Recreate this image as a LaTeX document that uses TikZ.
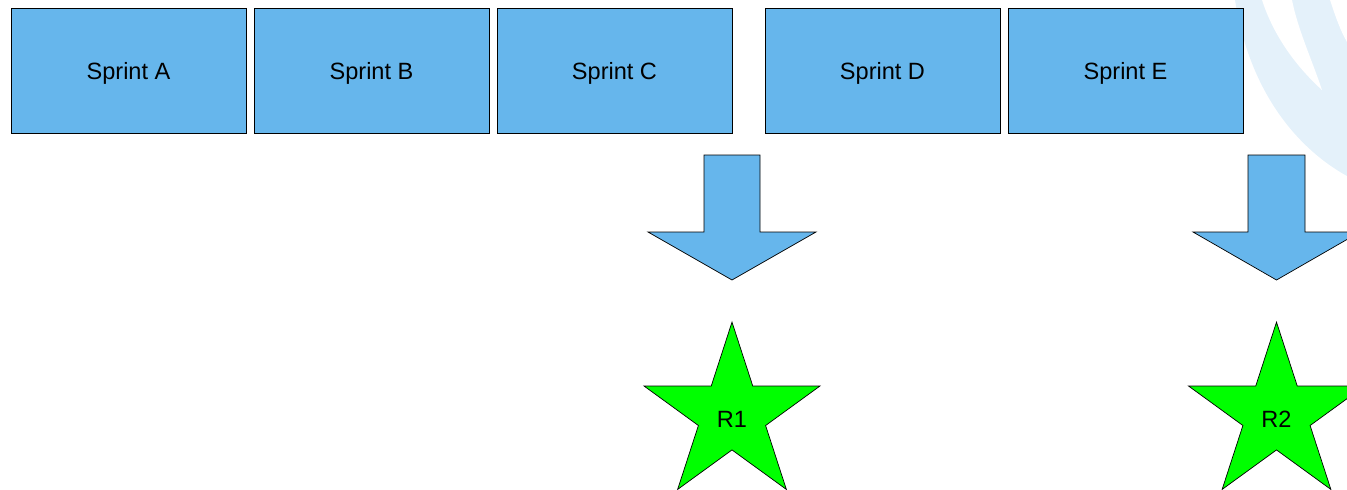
\documentclass[tikz,border=0pt]{standalone}
\usepackage{fontspec}
\setmainfont{Liberation Sans}
\usetikzlibrary{shapes.geometric}
\definecolor{sprintblue}{RGB}{102,182,236}
\definecolor{logoblue}{RGB}{228,241,250}
\begin{document}
\begin{tikzpicture}[x=0.02cm,y=-0.02cm,
            every node/.style={draw,font=\fontsize{13.4}{16}\selectfont},
            sprintbox/.style={rectangle,fill=sprintblue,minimum width=4.7cm,minimum height=2.5cm,inner sep=0pt,text depth=0pt},
            release/.style={star,star points=5,star point ratio=2.618,fill=green,minimum size=3.7cm,inner sep=0pt,text height=15pt,text depth=0pt},
            bigarrow/.style={draw,fill=sprintblue,line join=miter}]
            \clip (0,0) rectangle (1347,490);
            % faint logo in the corner
            \fill[logoblue] (1235,0) .. controls (1250,95) and (1300,150) .. (1347,176) -- (1347,0) -- cycle;
            \fill[white] (1262,0) .. controls (1275,40) and (1300,70) .. (1322,90) .. controls (1312,60) and (1298,30) .. (1292,0) -- cycle;
            \fill[white] (1330,0) .. controls (1335,15) and (1340,30) .. (1347,42) -- (1347,0) -- cycle;
            \node[sprintbox] (A) at (128.5,70.5) {Sprint A};
            \node[sprintbox] (B) at (371.5,70.5) {Sprint B};
            \node[sprintbox] (C) at (614.5,70.5) {Sprint C};
            \node[sprintbox] (D) at (882.5,70.5) {Sprint D};
            \node[sprintbox] (E) at (1125.5,70.5) {Sprint E};
            \node[release] (R1) at (732,414.6) {R1};
            \node[release] (R2) at (1276.5,414.6) {R2};
            \path[bigarrow] (704,155) -- (760,155) -- (760,232) -- (816,232) -- (732,280)
              -- (648,232) -- (704,232) -- cycle;
            \path[bigarrow] (1248,155) -- (1305,155) -- (1305,232) -- (1360,232) -- (1276.5,280)
              -- (1193,232) -- (1248,232) -- cycle;
\end{tikzpicture}
\end{document}
